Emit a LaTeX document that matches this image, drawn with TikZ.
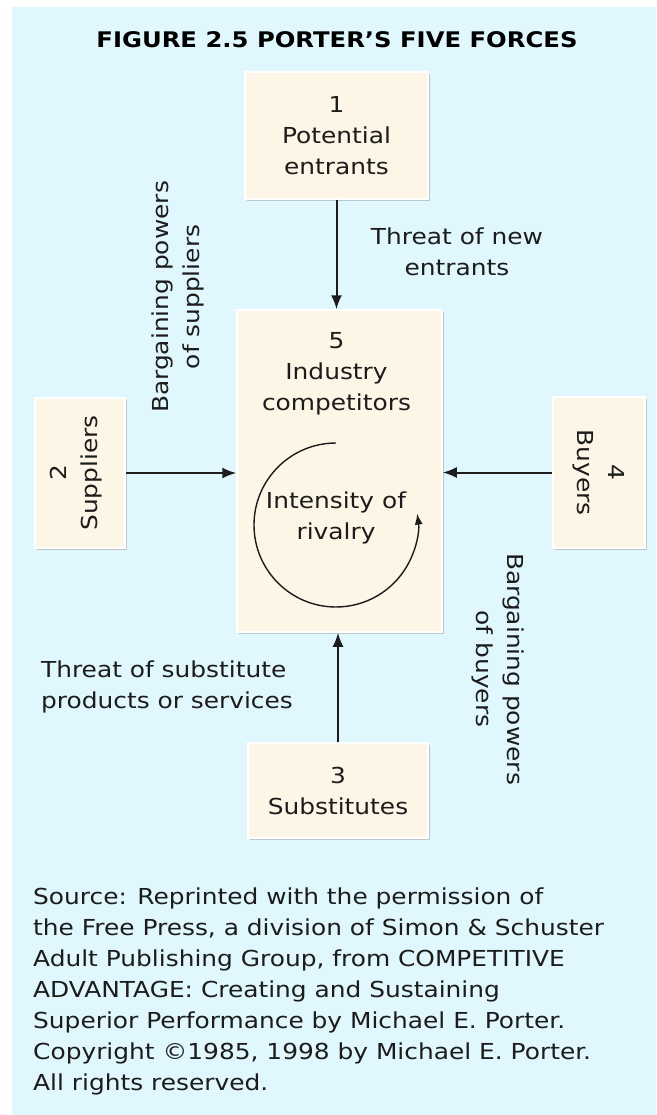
\documentclass[tikz,border=0pt]{standalone}
\usepackage{fontspec}
\setmainfont{DejaVu Sans}[FakeStretch=1.13]
\usetikzlibrary{arrows.meta,shadows,positioning}
\definecolor{bgcyan}{RGB}{224,247,253}
\definecolor{cream}{RGB}{253,245,229}
\definecolor{ink}{RGB}{28,28,28}
\tikzset{
  arr/.style={line width=2pt, draw=ink, -{Latex[length=14pt, width=11pt]}},
  force/.style={draw=white, line width=1.5pt, fill=cream, align=center, inner sep=0pt, text=ink,
    drop shadow={shadow xshift=2pt, shadow yshift=-2pt, fill=black!40, opacity=0.5}},
  lbl/.style={align=center, inner sep=0pt, text=ink},
}

\begin{document}
\begin{tikzpicture}[x=1pt, y=1pt, font=\fontsize{22}{31}\selectfont]
\useasboundingbox (0,0) rectangle (656,-1115);
\fill[bgcyan] (12,-7) rectangle (656,-1115);

\node[font=\fontsize{21.5}{26}\selectfont\bfseries, inner sep=0pt] (title) at (337,-40) {FIGURE 2.5 PORTER'S FIVE FORCES};

% the five forces
\node[force, minimum width=183, minimum height=127] (b1) at (336.5,-135.5) {1\\Potential\\entrants};
\node[force, minimum width=205, minimum height=322] (b5) at (339.5,-471) {};
\node[force, minimum width=90, minimum height=150] (b2) at (80,-473) {};
\node[force, minimum width=92, minimum height=151] (b4) at (599,-472.5) {};
\node[force, minimum width=180, minimum height=95] (b3) at (338,-790.5) {3\\Substitutes};
\node[lbl, rotate=90] (t2) at ([xshift=-4]b2.center) {2\\Suppliers};
\node[lbl, rotate=-90] (t4) at (b4.center) {4\\Buyers};
\node[lbl] (t5) at (336.5,-373.5) {5\\Industry\\competitors};

\draw[arr] (b1.south) -- (b1.south |- b5.north);
\draw[arr] (b3.north) -- (b3.north |- b5.south);
\draw[arr] (b2.east) -- (b2.east -| b5.west);
\draw[arr] (b4.west) -- (b4.west -| b5.east);

% rivalry
\coordinate (rc) at (336,-525);
\draw[ink, line width=1.4pt, -{Latex[length=11pt, width=8pt]}] ([yshift=82]rc) arc[start angle=90, end angle=368, radius=82];
\node[lbl] (riv) at (336,-517.5) {Intensity of\\rivalry};

\node[lbl] (tnew) at (457,-252) {Threat of new\\entrants};
\node[lbl, align=left] (tsub) at (167,-687) {Threat of substitute\\products or services};
\node[lbl, rotate=90] (bsup) at (178,-297) {Bargaining powers\\of suppliers};
\node[lbl, rotate=-90] (bbuy) at (498,-669) {Bargaining powers\\of buyers};

\node[lbl, align=left, anchor=north west] (src) at (33,-888) {Source: Reprinted with the permission of\\
the Free Press, a division of Simon \& Schuster\\
Adult Publishing Group, from COMPETITIVE\\
ADVANTAGE: Creating and Sustaining\\
Superior Performance by Michael E. Porter.\\
Copyright \textcopyright 1985, 1998 by Michael E. Porter.\\
All rights reserved.};

\end{tikzpicture}
\end{document}
